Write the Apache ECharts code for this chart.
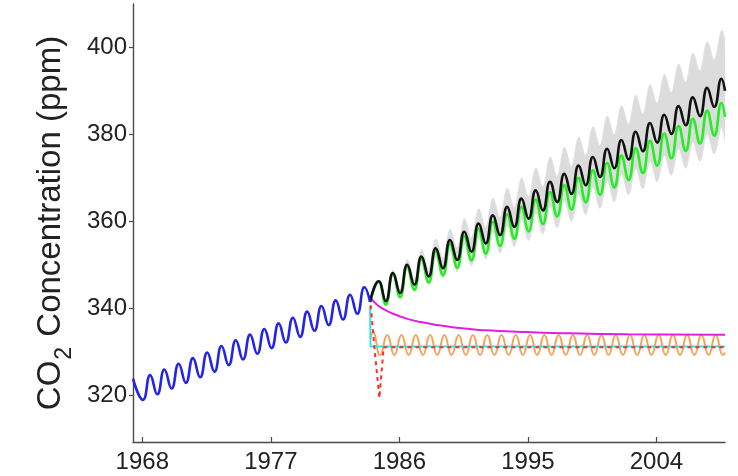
<!DOCTYPE html>
<html>
<head>
<meta charset="utf-8">
<script src="https://cdn.jsdelivr.net/npm/echarts@6/dist/echarts.min.js"></script>
<style>html,body{margin:0;padding:0;background:#fff;}#c{width:738px;height:476px;}</style>
</head>
<body>
<div id="c"></div>
<script>
// ---- data ----
var xTicks = [1968, 1977, 1986, 1995, 2004];
var yTicks = [320, 340, 360, 380, 400];

var blueT = [1967.35, 1968.05, 1968.55, 1969.05, 1969.55, 1970.05, 1970.55, 1971.05, 1971.55, 1972.05, 1972.55, 1973.05, 1973.55, 1974.05, 1974.55, 1975.05, 1975.55, 1976.05, 1976.55, 1977.05, 1977.55, 1978.05, 1978.55, 1979.05, 1979.55, 1980.05, 1980.55, 1981.05, 1981.55, 1982.05, 1982.55, 1983.05, 1983.55, 1983.95];
var blueV = [323.8, 318.9, 324.6, 320.2, 325.9, 321.5, 327.2, 322.8, 328.5, 324.1, 329.8, 325.4, 331.3, 326.9, 332.6, 328.2, 333.9, 329.5, 335.2, 330.8, 336.5, 332.1, 337.8, 333.4, 339.2, 334.8, 340.5, 336.1, 341.8, 337.4, 343.1, 338.7, 344.8, 341.4];

var modelT = [1983.95, 1984.55, 1985.05, 1985.55, 1986.05, 1986.55, 1987.05, 1987.55, 1988.05, 1988.55, 1989.05, 1989.55, 1990.05, 1990.55, 1991.05, 1991.55, 1992.05, 1992.55, 1993.05, 1993.55, 1994.05, 1994.55, 1995.05, 1995.55, 1996.05, 1996.55, 1997.05, 1997.55, 1998.05, 1998.55, 1999.05, 1999.55, 2000.05, 2000.55, 2001.05, 2001.55, 2002.05, 2002.55, 2003.05, 2003.55, 2004.05, 2004.55, 2005.05, 2005.55, 2006.05, 2006.55, 2007.05, 2007.55, 2008.05, 2008.55, 2008.8];
var blackV = [341.4, 346.2, 341.6, 348.1, 343.5, 350.0, 345.4, 351.9, 347.3, 353.8, 349.2, 355.7, 351.1, 357.6, 353.0, 359.5, 354.9, 361.4, 356.8, 363.3, 358.7, 365.2, 360.6, 367.1, 362.5, 369.1, 364.4, 370.9, 366.3, 372.8, 368.3, 374.8, 370.2, 376.7, 372.2, 378.7, 374.2, 380.6, 376.1, 382.6, 378.1, 384.5, 380.1, 386.5, 382.1, 388.5, 384.2, 390.7, 386.3, 392.8, 390.0];
var greenV = [341.4, 346.1, 340.8, 347.9, 342.5, 349.6, 344.2, 351.4, 345.9, 353.1, 347.6, 354.8, 349.3, 356.5, 351.0, 358.2, 352.6, 359.9, 354.3, 361.6, 356.0, 363.3, 357.7, 365.0, 359.4, 366.7, 361.1, 368.3, 362.7, 370.0, 364.4, 371.7, 366.1, 373.4, 367.8, 375.1, 369.5, 376.8, 371.1, 378.5, 372.8, 380.2, 374.5, 381.9, 376.2, 383.6, 377.9, 385.4, 379.7, 387.2, 384.0];
var bandSpread = [0, 0.3, 0.5, 0.7, 0.9, 1.2, 1.4, 1.6, 1.8, 2.1, 2.3, 2.5, 2.7, 3.0, 3.2, 3.4, 3.6, 3.9, 4.1, 4.3, 4.5, 4.8, 5.0, 5.2, 5.4, 5.7, 5.9, 6.1, 6.3, 6.6, 6.8, 7.0, 7.2, 7.5, 7.7, 7.9, 8.1, 8.4, 8.6, 8.8, 9.0, 9.3, 9.5, 9.7, 9.9, 10.2, 10.4, 10.6, 10.8, 11.1, 11.2];

var magentaT = [1983.95, 1984.5, 1985.0, 1985.5, 1986.5, 1987.5, 1988.5, 1990.0, 1992.0, 1995.0, 1998.0, 2002.0, 2008.8];
var magentaV = [342.5, 340.6, 339.6, 338.8, 337.6, 336.8, 336.2, 335.5, 334.9, 334.5, 334.2, 334.0, 333.9];

var cyanT = [1983.95, 1983.98, 2008.8];
var cyanV = [340.5, 331.2, 331.2];

var redT = [1983.95, 1984.25, 1984.6, 1984.9, 2008.8];
var redV = [342.5, 331.0, 319.3, 331.0, 331.0];

var orangeT = [1983.97, 1984.15, 1984.65, 1985.15, 1985.65, 1986.15, 1986.65, 1987.15, 1987.65, 1988.15, 1988.65, 1989.15, 1989.65, 1990.15, 1990.65, 1991.15, 1991.65, 1992.15, 1992.65, 1993.15, 1993.65, 1994.15, 1994.65, 1995.15, 1995.65, 1996.15, 1996.65, 1997.15, 1997.65, 1998.15, 1998.65, 1999.15, 1999.65, 2000.15, 2000.65, 2001.15, 2001.65, 2002.15, 2002.65, 2003.15, 2003.65, 2004.15, 2004.65, 2005.15, 2005.65, 2006.15, 2006.65, 2007.15, 2007.65, 2008.15, 2008.65, 2008.8];
var orangeV = [333.0, 334.5, 329.2, 333.8, 329.2, 333.8, 329.2, 333.8, 329.2, 333.8, 329.2, 333.8, 329.2, 333.8, 329.2, 333.8, 329.2, 333.8, 329.2, 333.8, 329.2, 333.8, 329.2, 333.8, 329.2, 333.8, 329.2, 333.8, 329.2, 333.8, 329.2, 333.8, 329.2, 333.8, 329.2, 333.8, 329.2, 333.8, 329.2, 333.8, 329.2, 333.8, 329.2, 333.8, 329.2, 333.8, 329.2, 333.8, 329.2, 333.8, 329.2, 329.8];

// ---- build series data ----
function pairs(t, v) { return t.map(function (x, i) { return [x, v[i]]; }); }

var FONT = '"Liberation Sans", Arial, Helvetica, sans-serif';
var chart = echarts.init(document.getElementById('c'), null, { renderer: 'canvas' });

function renderBand(params, api) {
  if (params.dataIndex !== 0) return null;
  var pts = [];
  for (var i = 0; i < modelT.length; i++) {
    pts.push(api.coord([modelT[i], blackV[i] + bandSpread[i]]));
  }
  for (var j = modelT.length - 1; j >= 0; j--) {
    pts.push(api.coord([modelT[j], blackV[j] - bandSpread[j]]));
  }
  return {
    type: 'polygon',
    shape: { points: pts, smooth: 0.35 },
    style: { fill: '#dcdcdc', stroke: '#e2e2e2', lineWidth: 1 }
  };
}

chart.setOption({
  animation: false,
  backgroundColor: '#ffffff',
  grid: { left: 133, right: 13, top: 4, bottom: 34, containLabel: false },
  xAxis: {
    type: 'value', min: 1967.35, max: 2008.8,
    splitLine: { show: false },
    axisLine: { show: true, onZero: false, lineStyle: { color: '#4a4a4a', width: 1.4 } },
    axisTick: { show: true, inside: true, length: 5, customValues: xTicks, lineStyle: { color: '#4a4a4a', width: 1.2 } },
    axisLabel: { customValues: xTicks, fontSize: 24, color: '#222', fontFamily: FONT, margin: 8,
      formatter: function (v) { return String(Math.round(v)); } }
  },
  yAxis: {
    type: 'value', min: 309.2, max: 410,
    splitLine: { show: false },
    axisLine: { show: true, lineStyle: { color: '#4a4a4a', width: 1.4 } },
    axisTick: { show: true, inside: false, length: 4, customValues: yTicks, lineStyle: { color: '#4a4a4a', width: 1.2 } },
    axisLabel: { customValues: yTicks, fontSize: 24, color: '#222', fontFamily: FONT, margin: 6,
      formatter: function (v) { return String(Math.round(v)); } },
    name: '{a|CO}{s|2}{a| Concentration (ppm)}',
    nameLocation: 'middle', nameGap: 58, nameRotate: 90,
    nameTextStyle: {
      color: '#222', fontFamily: FONT,
      rich: {
        a: { fontSize: 33, fontFamily: FONT, color: '#222', lineHeight: 35 },
        s: { fontSize: 23, fontFamily: FONT, color: '#222', lineHeight: 23, padding: [28, 1, 0, 1] }
      }
    }
  },
  series: [
    { type: 'custom', renderItem: renderBand, data: [[modelT[0], blackV[0]]], silent: true, z: 1, clip: true },
    { type: 'line', data: pairs(orangeT, orangeV), smooth: 0.5, showSymbol: false,
      lineStyle: { color: '#f5a25a', width: 2 }, z: 2 },
    { type: 'line', data: pairs(cyanT, cyanV), showSymbol: false,
      lineStyle: { color: '#2ee6e6', width: 2 }, z: 3 },
    { type: 'line', data: pairs(redT, redV), showSymbol: false,
      lineStyle: { color: '#ff2a2a', width: 2, type: [4, 4] }, z: 4 },
    { type: 'line', data: pairs(magentaT, magentaV), smooth: 0.4, showSymbol: false,
      lineStyle: { color: '#e21ee2', width: 2 }, z: 5 },
    { type: 'line', data: pairs(modelT, greenV), smooth: 0.5, showSymbol: false,
      lineStyle: { color: '#22ee22', width: 2.6 }, z: 6 },
    { type: 'line', data: pairs(modelT, blackV), smooth: 0.5, showSymbol: false,
      lineStyle: { color: '#111111', width: 2.6 }, z: 7 },
    { type: 'line', data: pairs(blueT, blueV), smooth: 0.5, showSymbol: false,
      lineStyle: { color: '#2424e8', width: 2.6 }, z: 8 }
  ]
});
</script>
</body>
</html>
